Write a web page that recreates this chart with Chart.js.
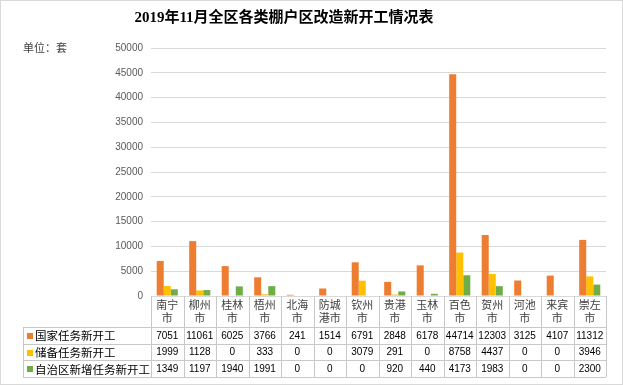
<!DOCTYPE html>
<html>
<head>
<meta charset="utf-8">
<script src="https://cdn.jsdelivr.net/npm/chart.js@4"></script>
<style>
  html, body { margin: 0; padding: 0; background: #fff; }
  #wrap { width: 623px; height: 385px; }
</style>
</head>
<body>
<div id="wrap"><canvas id="c" width="623" height="385"></canvas></div>
<script>
const categories = ['南宁市', '柳州市', '桂林市', '梧州市', '北海市', '防城港市', '钦州市', '贵港市', '玉林市', '百色市', '贺州市', '河池市', '来宾市', '崇左市'];
const seriesNames = ['国家任务新开工', '储备任务新开工', '自治区新增任务新开工'];
const stateTask = [7051, 11061, 6025, 3766, 241, 1514, 6791, 2848, 6178, 44714, 12303, 3125, 4107, 11312];
const reserveTask = [1999, 1128, 0, 333, 0, 0, 3079, 291, 0, 8758, 4437, 0, 0, 3946];
const regionTask = [1349, 1197, 1940, 1991, 0, 0, 0, 920, 440, 4173, 1983, 0, 0, 2300];
const colors = ['#ED7D31', '#FFC000', '#70AD47'];
const yMax = 50000;
const yStep = 5000;

const titleText = '2019年11月全区各类棚户区改造新开工情况表';
const unitText = '单位：套';

// title, unit label, data table under the plot
const tablePlugin = {
  id: 'dataTable',
  beforeDraw(chart) {
    const ctx = chart.ctx;
    ctx.save();
    ctx.fillStyle = '#fff';
    ctx.fillRect(0, 0, chart.width, chart.height);
    ctx.restore();
  },
  afterDraw(chart) {
    const ctx = chart.ctx;
    const x = chart.scales.x;
    const area = chart.chartArea;
    const rows = [stateTask, reserveTask, regionTask];
    const colW = (x.right - x.left) / categories.length;
    const tableLeft = 23;
    const catTop = area.bottom;
    const rowTop = 327;
    const rowH = 16.7;
    const bottom = rowTop + rowH * rows.length;

    ctx.save();
    // title
    ctx.fillStyle = '#000';
    ctx.font = "bold 15px 'Liberation Serif', 'Noto Sans CJK SC'";
    ctx.textAlign = 'center';
    ctx.textBaseline = 'middle';
    ctx.fillText(titleText, 284, 18);

    // unit
    ctx.fillStyle = '#404040';
    ctx.font = "11px 'Noto Sans CJK SC'";
    ctx.textAlign = 'left';
    ctx.fillText(unitText, 23, 48);

    // grid lines of the table
    ctx.strokeStyle = '#c8c8c8';
    ctx.lineWidth = 1;
    ctx.beginPath();
    for (let i = 0; i <= rows.length; i++) {
      const yy = Math.round(rowTop + rowH * i) + 0.5;
      ctx.moveTo(tableLeft, yy);
      ctx.lineTo(x.right, yy);
    }
    ctx.moveTo(tableLeft + 0.5, rowTop);
    ctx.lineTo(tableLeft + 0.5, bottom);
    for (let i = 0; i <= categories.length; i++) {
      const xx = Math.round(x.getPixelForValue(i) - colW / 2) + 0.5;
      ctx.moveTo(xx, catTop);
      ctx.lineTo(xx, bottom);
    }
    ctx.stroke();

    // category labels (two lines)
    ctx.fillStyle = '#404040';
    ctx.font = "11px 'Noto Sans CJK SC'";
    ctx.textAlign = 'center';
    categories.forEach((c, i) => {
      const cx = x.getPixelForValue(i);
      ctx.fillText(c.slice(0, 2), cx, 305);
      ctx.fillText(c.slice(2), cx, 318);
    });

    // series rows
    rows.forEach((vals, r) => {
      const cy = rowTop + rowH * r + rowH / 2 + 0.5;
      ctx.fillStyle = colors[r];
      ctx.fillRect(27, Math.round(cy - 3), 6, 6);
      ctx.fillStyle = '#000';
      ctx.font = "11.5px 'Noto Sans CJK SC'";
      ctx.textAlign = 'left';
      ctx.fillText(seriesNames[r], 35, cy);
      ctx.font = "10px 'Liberation Sans', 'Noto Sans CJK SC'";
      ctx.textAlign = 'center';
      vals.forEach((v, i) => {
        ctx.fillText(String(v), x.getPixelForValue(i), cy);
      });
    });

    // outer border
    ctx.strokeStyle = '#d9d9d9';
    ctx.strokeRect(0.5, 0.5, chart.width - 1, chart.height - 1);
    ctx.restore();
  }
};

new Chart(document.getElementById('c'), {
  type: 'bar',
  data: {
    labels: categories,
    datasets: [
      { label: seriesNames[0], data: stateTask, backgroundColor: colors[0] },
      { label: seriesNames[1], data: reserveTask, backgroundColor: colors[1] },
      { label: seriesNames[2], data: regionTask, backgroundColor: colors[2] }
    ]
  },
  options: {
    responsive: false,
    animation: false,
    layout: { padding: { top: 48, bottom: 89, left: 0, right: 17 } },
    datasets: { bar: { barPercentage: 1, categoryPercentage: 0.65 } },
    plugins: { legend: { display: false }, tooltip: { enabled: false }, title: { display: false } },
    scales: {
      x: { display: false },
      y: {
        min: 0,
        max: yMax,
        afterFit: (s) => { s.width = 151; },
        ticks: {
          stepSize: yStep,
          padding: 8,
          color: '#595959',
          font: { family: "'Liberation Sans'", size: 10 },
          callback: (v) => String(v)
        },
        grid: { color: '#d9d9d9', drawTicks: false },
        border: { display: false }
      }
    }
  },
  plugins: [tablePlugin]
});
</script>
</body>
</html>
